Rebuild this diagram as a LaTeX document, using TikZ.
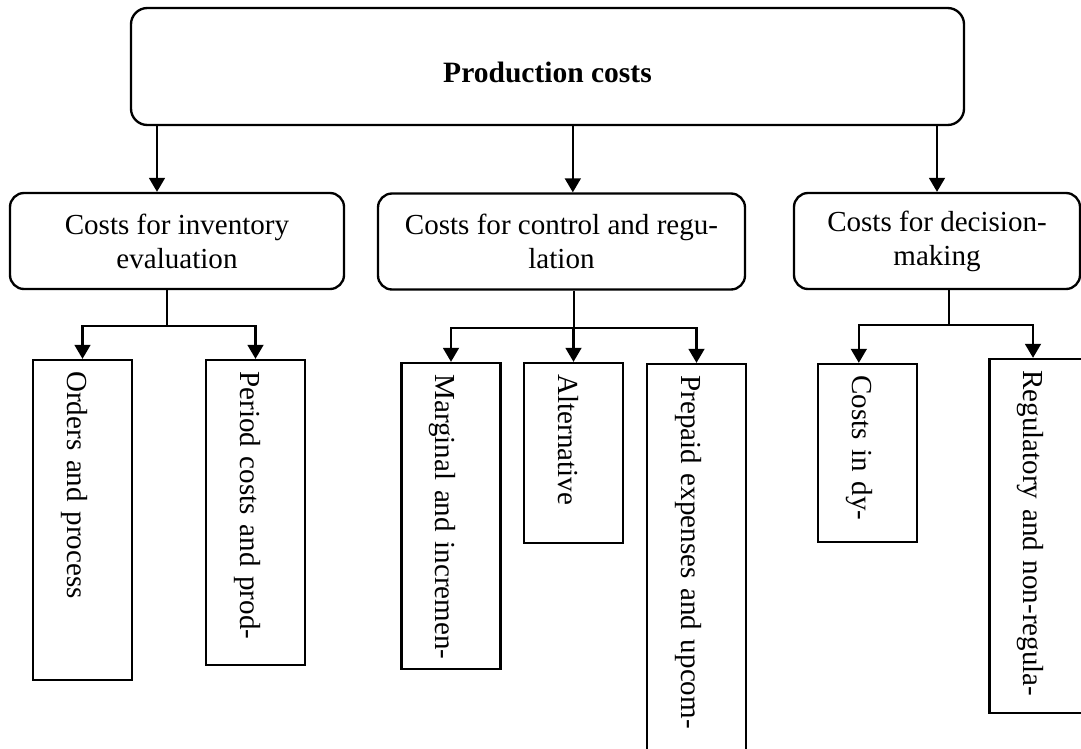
\documentclass[tikz,border=0pt]{standalone}
\usepackage{fontspec}
\setmainfont{Liberation Serif}
\usetikzlibrary{arrows.meta,calc,positioning}
\newcommand{\bodyfont}{\fontsize{12.4}{14.5}\selectfont}

\begin{document}
\begin{tikzpicture}[x=0.015cm,y=-0.015cm,
  topbox/.style={draw,line width=1pt,rounded corners=7pt,minimum width=12.495cm,minimum height=1.755cm,font=\fontsize{12.6}{14.5}\selectfont\bfseries,text height=13.4pt,text depth=0pt},
  groupbox/.style={draw,line width=1pt,rounded corners=6pt,minimum height=1.44cm,align=center,font=\bodyfont},
  leafbox/.style={draw,line width=1pt,rotate=-90,minimum height=1.485cm,minimum width=#1,inner xsep=0.17cm,text height=16pt,text depth=3pt,align=left,font=\bodyfont,
    /utils/exec={\pgfmathsetlengthmacro\leafwd{#1-0.34cm}},text width=\leafwd},
  link/.style={line width=0.9pt},
  arr/.style={link,-{Triangle[length=6pt,width=6.8pt]}}]
  \useasboundingbox (0,0) rectangle (1081,749);
  \clip (0,0) rectangle (1081,749);
  % top level
  \node[topbox] (top) at (547.5,66.5) {Production costs};
  % second level
  \node[groupbox,minimum width=5.01cm] (inv) at (177,241) {Costs for inventory\\evaluation};
  \node[groupbox,minimum width=5.505cm] (ctrl) at (561.5,241.5) {Costs for control and regu-\\lation};
  \node[groupbox,minimum width=4.29cm] (dec) at (937,241) {Costs for decision-\\making};
  \foreach \n/\dx in {inv/-0.3cm,ctrl/0.17cm,dec/0cm}{
    \coordinate (\n-in) at ([xshift=\dx]\n.north);
    \draw[arr] (\n-in |- top.south) -- (\n-in);}
  % third level
  \node[leafbox=4.8cm] (ord) at (82.5,520) {Orders and process};
  \node[leafbox=4.575cm] (per) at (255.5,512.5) {Period costs and prod-};
  \node[leafbox=4.59cm] (mar) at (451,516) {\mbox{Marginal and incremen-}};
  \node[leafbox=2.7cm] (alt) at (573.5,453) {Alternative};
  \node[leafbox=6.24cm] (pre) at (696.5,572) {Prepaid expenses and upcom-};
  \node[leafbox=2.67cm] (cdy) at (867.5,453) {Costs in dy-};
  \node[leafbox=5.31cm] (reg) at (1039,536) {Regulatory and non-regula-};
  % inventory branch
  \coordinate (invbus) at ($(inv.south)+(-10,36)$);
  \draw[link] (inv.south -| invbus) -- (invbus);
  \draw[arr] (invbus) -| (ord.west);
  \draw[arr] (invbus) -| (per.west);
  % control branch
  \coordinate (ctrlbus) at ($(ctrl.south)+(12.5,37.5)$);
  \draw[link] (ctrl.south -| ctrlbus) -- (ctrlbus);
  \draw[arr] (ctrlbus) -| (mar.west);
  \draw[arr] (ctrlbus) -| (alt.west);
  \draw[arr] (ctrlbus) -| (pre.west);
  % decision branch
  \coordinate (decbus) at ($(dec.south)+(12,35)$);
  \coordinate (cdy-in) at ([xshift=-0.13cm]cdy.west);
  \coordinate (reg-in) at ([xshift=-0.09cm]reg.west);
  \draw[link] (dec.south -| decbus) -- (decbus);
  \draw[arr] (decbus) -| (cdy-in);
  \draw[arr] (decbus) -| (reg-in);
\end{tikzpicture}
\end{document}
